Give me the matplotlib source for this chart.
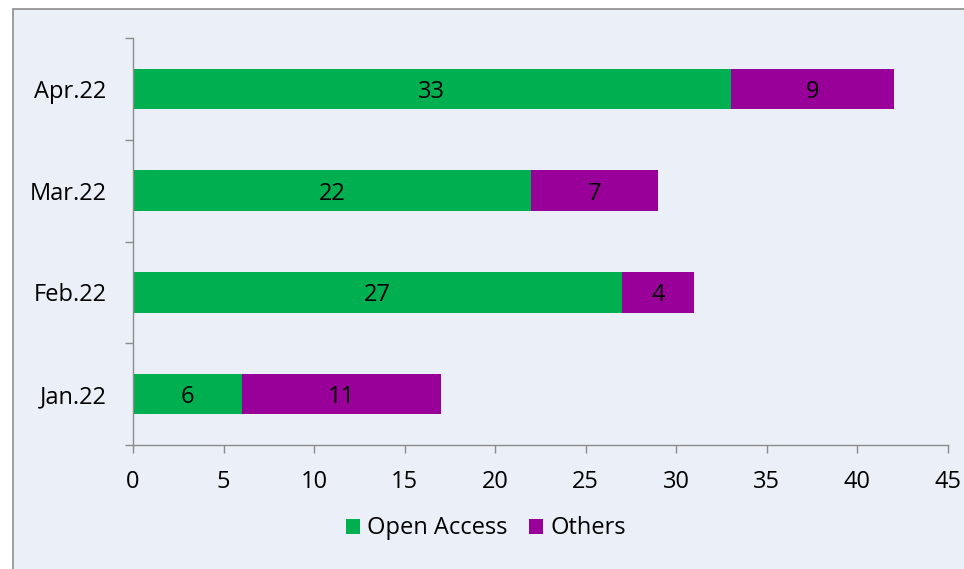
import numpy as np
import matplotlib.pyplot as plt
from matplotlib.patches import Rectangle

months = ['Jan.22', 'Feb.22', 'Mar.22', 'Apr.22']
open_access = [6, 27, 22, 33]
others = [11, 4, 7, 9]

green = '#00B050'
purple = '#990099'
bg = '#EAEFF8'

plt.rcParams['font.family'] = ['Open Sans', 'DejaVu Sans']

fig = plt.figure(figsize=(9.64, 5.69), dpi=100, facecolor='white')
# panel background with border
fig.patches.append(Rectangle((13 / 964, -0.01), 1.0, 1 - 9 / 569 + 0.01,
                             transform=fig.transFigure, facecolor=bg,
                             edgecolor='#8C8C8C', linewidth=1.2, zorder=-10))

ax = fig.add_axes([133 / 964, 1 - 445 / 569, (948 - 133) / 964, (445 - 38) / 569])
ax.patch.set_alpha(0)

fs = 17
y = np.arange(len(months))
h = 0.4
b1 = ax.barh(y, open_access, height=h, color=green, label='Open Access')
b2 = ax.barh(y, others, left=open_access, height=h, color=purple, label='Others')
for t in ax.bar_label(b1, label_type='center', fontsize=fs) + ax.bar_label(b2, label_type='center', fontsize=fs):
    t.set_verticalalignment('center_baseline')

ax.set_xlim(0, 45)
ax.set_ylim(-0.5, len(months) - 0.5)
ax.set_xticks(range(0, 46, 5))
ax.set_yticks(y)
ax.set_yticklabels(months)
ax.set_yticks(np.arange(-0.5, len(months), 1), minor=True)
ax.tick_params(axis='y', which='major', length=0, labelsize=fs, pad=19)
ax.tick_params(axis='y', which='minor', length=6, color='#8C8C8C', width=1)
ax.tick_params(axis='x', length=6, color='#8C8C8C', width=1, labelsize=fs, pad=12)

for s in ['top', 'right']:
    ax.spines[s].set_visible(False)
for s in ['left', 'bottom']:
    ax.spines[s].set_color('#8C8C8C')
    ax.spines[s].set_linewidth(1)

ax.legend(loc='center', bbox_to_anchor=(0.433, -0.205), ncol=2, frameon=False,
          fontsize=fs, handlelength=0.6, handleheight=0.6, handletextpad=0.3,
          columnspacing=0.9)

fig.savefig('out.png', dpi=100, facecolor='white')
